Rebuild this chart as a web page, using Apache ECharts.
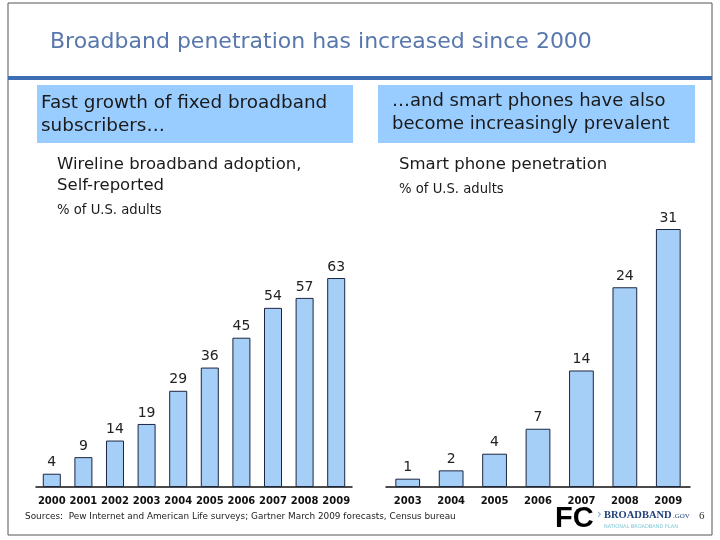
<!DOCTYPE html>
<html><head><meta charset="utf-8">
<script src="https://cdn.jsdelivr.net/npm/echarts@6/dist/echarts.min.js"></script>
<style>html,body{margin:0;padding:0;background:#fff}#c{width:720px;height:540px}</style>
</head><body><div id="c"></div>
<script>
const broadbandYears = ['2000','2001','2002','2003','2004','2005','2006','2007','2008','2009'];
const broadbandValues = [4, 9, 14, 19, 29, 36, 45, 54, 57, 63];
const phoneYears = ['2003','2004','2005','2006','2007','2008','2009'];
const phoneValues = [1, 2, 4, 7, 14, 24, 31];

const FONT = "'DejaVu Sans', Verdana, sans-serif";
const chart = echarts.init(document.getElementById('c'), null, {renderer:'canvas'});
const barStyle = {color:'#a6cff7', borderColor:'#1c2640', borderWidth:1};
const labelStyle = {show:true, position:'top', distance:4, color:'#222', fontFamily:FONT, fontSize:14};
const xLab = {color:'#111', fontFamily:FONT, fontSize:10, fontWeight:'bold', margin:9, interval:0};
function txt(x,y,t,size,color,extra){return Object.assign({type:'text',x:x,y:y,style:Object.assign({text:t,fontFamily:FONT,fontSize:size,fill:color,textVerticalAlign:'middle'},extra||{})});}
chart.setOption({
  animation:false,
  grid:[
    {left:36, width:316, top:278, bottom:53, containLabel:false},
    {left:386, width:304, top:229, bottom:53, containLabel:false}
  ],
  xAxis:[
    {gridIndex:0, type:'category', data:broadbandYears, axisTick:{show:false}, axisLine:{lineStyle:{color:'#111',width:1.5}}, axisLabel:xLab},
    {gridIndex:1, type:'category', data:phoneYears, axisTick:{show:false}, axisLine:{lineStyle:{color:'#111',width:1.5}}, axisLabel:xLab}
  ],
  yAxis:[
    {gridIndex:0, type:'value', min:0, max:63, show:false, splitLine:{show:false}},
    {gridIndex:1, type:'value', min:0, max:31, show:false, splitLine:{show:false}}
  ],
  series:[
    {type:'bar', xAxisIndex:0, yAxisIndex:0, data:broadbandValues, barWidth:'57%', itemStyle:barStyle, label:labelStyle},
    {type:'bar', xAxisIndex:1, yAxisIndex:1, data:phoneValues, barWidth:'57%', itemStyle:barStyle, label:labelStyle}
  ],
  graphic:[
    {type:'rect', shape:{x:8,y:3,width:704,height:532}, style:{fill:'none',stroke:'#555',lineWidth:1}},
    {type:'rect', shape:{x:8,y:76,width:704,height:4}, style:{fill:'#3d6db3'}},
    txt(50,42,'Broadband penetration has increased since 2000',22,'#5878ad'),
    {type:'rect', shape:{x:37,y:85,width:316,height:58}, style:{fill:'#99ccff'}},
    {type:'rect', shape:{x:378,y:85,width:317,height:58}, style:{fill:'#99ccff'}},
    txt(41,103,'Fast growth of fixed broadband',18.4,'#1a1a1a'),
    txt(41,126,'subscribers…',18.4,'#1a1a1a'),
    txt(392,101,'…and smart phones have also',18,'#1a1a1a'),
    txt(392,124,'become increasingly prevalent',18,'#1a1a1a'),
    txt(57,165,'Wireline broadband adoption,',16.5,'#1a1a1a'),
    txt(57,186,'Self-reported',16.5,'#1a1a1a'),
    txt(57,211,'% of U.S. adults',13.2,'#1a1a1a'),
    txt(399,165,'Smart phone penetration',16.5,'#1a1a1a'),
    txt(399,190,'% of U.S. adults',13.2,'#1a1a1a'),
    txt(25,517,'Sources:  Pew Internet and American Life surveys; Gartner March 2009 forecasts, Census bureau',8.9,'#222'),
    txt(555,519,'FC',29,'#000',{fontWeight:'bold',fontFamily:'Liberation Sans'}),
    txt(597,515,'›',12,'#7ab',{}),
    txt(604,515,'BROADBAND',10.5,'#1e3f7a',{fontWeight:'bold',fontFamily:'Liberation Serif'}),
    txt(673,516,'.GOV',7,'#1e3f7a',{fontFamily:'Liberation Serif'}),
    txt(604,527,'NATIONAL BROADBAND PLAN',5,'#7fc6d6',{}),
    txt(699,516,'6',11,'#333',{fontFamily:'Liberation Serif'})
  ]
});
</script></body></html>
